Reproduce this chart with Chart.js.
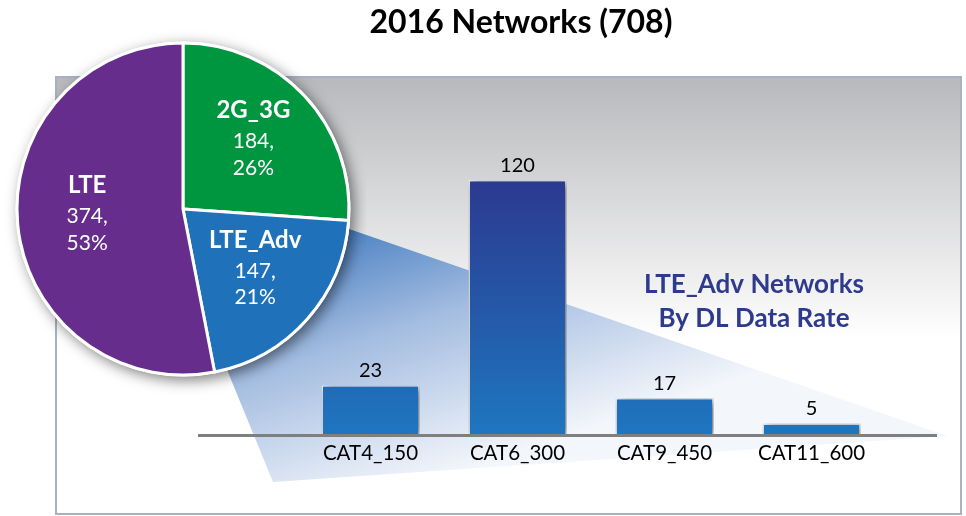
<!DOCTYPE html>
<html>
<head>
<meta charset="utf-8">
<script src="https://cdn.jsdelivr.net/npm/chart.js@4.4.1/dist/chart.umd.min.js"></script>
<style>
  html, body { margin: 0; padding: 0; background: #fff; }
  #wrap { position: relative; width: 966px; height: 516px; }
  canvas { position: absolute; left: 0; top: 0; }
</style>
</head>
<body>
<div id="wrap">
  <canvas id="bar-chart" width="966" height="516"></canvas>
  <canvas id="pie-chart" width="366" height="418"></canvas>
</div>
<script>
// data
const pieLabels = ['2G_3G', 'LTE_Adv', 'LTE'];
const pieValues = [184, 147, 374];
const barLabels = ['CAT4_150', 'CAT6_300', 'CAT9_450', 'CAT11_600'];
const barValues = [23, 120, 17, 5];
const chartTitle = '2016 Networks (708)';
const barTitle = ['LTE_Adv Networks', 'By DL Data Rate'];

const pieColors = ['#00953f', '#1f72ba', '#662d8c'];
const FONT = 'Lato, "Open Sans", sans-serif';

// grey panel, zoom wedge, title texts and the base line
const backdrop = {
    id: 'backdrop',
    beforeDraw(chart) {
        const ctx = chart.ctx;
        ctx.save();
        const bg = ctx.createLinearGradient(0, 77, 0, 340);
        bg.addColorStop(0, '#b8b9bc');
        bg.addColorStop(1, '#ffffff');
        ctx.fillStyle = bg;
        ctx.fillRect(56, 77, 905, 437);
        ctx.strokeStyle = '#a9b2c4';
        ctx.lineWidth = 2;
        ctx.strokeRect(56, 77, 905, 437);

        // wedge coming out of the pie
        const wg = ctx.createLinearGradient(330, 215, 420, 485);
        wg.addColorStop(0, '#3f79c0');
        wg.addColorStop(0.45, '#a3bce0');
        wg.addColorStop(1, '#f3f6fb');
        ctx.fillStyle = wg;
        ctx.beginPath();
        ctx.moveTo(190, 174);
        ctx.lineTo(948, 436);
        ctx.lineTo(273, 482);
        ctx.lineTo(182, 260);
        ctx.closePath();
        ctx.fill();

        ctx.fillStyle = '#000';
        ctx.textAlign = 'center';
        ctx.textBaseline = 'alphabetic';
        ctx.font = 'bold 32px ' + FONT;
        ctx.fillText(chartTitle, 521, 33);

        ctx.fillStyle = '#2e3a8e';
        ctx.font = 'bold 26px ' + FONT;
        ctx.fillText(barTitle[0], 754, 293);
        ctx.fillText(barTitle[1], 754, 327);
        ctx.restore();
    },
    beforeDatasetsDraw(chart) {
        const ctx = chart.ctx;
        const y0 = chart.scales.y.getPixelForValue(0);
        ctx.save();
        ctx.strokeStyle = '#7f7f7f';
        ctx.lineWidth = 3;
        ctx.beginPath();
        ctx.moveTo(198, y0 + 1.5);
        ctx.lineTo(937, y0 + 1.5);
        ctx.stroke();
        ctx.restore();
    }
};

const barShadow = {
    id: 'barShadow',
    beforeDatasetDraw(chart) {
        const ctx = chart.ctx;
        ctx.save();
        ctx.shadowColor = 'rgba(0,0,0,0.55)';
        ctx.shadowBlur = 8;
        ctx.shadowOffsetX = 3;
        ctx.shadowOffsetY = 2;
    },
    afterDatasetDraw(chart) {
        chart.ctx.restore();
    }
};

const barValuesText = {
    id: 'barValuesText',
    afterDatasetsDraw(chart) {
        const ctx = chart.ctx;
        const meta = chart.getDatasetMeta(0);
        ctx.save();
        ctx.fillStyle = '#000';
        ctx.font = '20px ' + FONT;
        ctx.textAlign = 'center';
        ctx.textBaseline = 'alphabetic';
        meta.data.forEach((bar, i) => {
            ctx.fillText(barValues[i], bar.x, bar.y - 8);
        });
        ctx.restore();
    }
};

function barGradient(chart) {
    const area = chart.chartArea;
    if (!area) return '#1f72ba';
    const g = chart.ctx.createLinearGradient(0, area.top, 0, area.bottom);
    g.addColorStop(0, '#2c3990');
    g.addColorStop(1, '#1e76bf');
    return g;
}

new Chart(document.querySelector('#bar-chart').getContext('2d'), {
    type: 'bar',
    data: {
        labels: barLabels,
        datasets: [{
            data: barValues,
            backgroundColor: ctx => barGradient(ctx.chart),
            borderColor: '#e6edf8',
            borderWidth: 1.5,
            barPercentage: 0.667,
            categoryPercentage: 1,
            clip: false
        }]
    },
    options: {
        responsive: false,
        animation: false,
        layout: { padding: { left: 297, right: 81, top: 180, bottom: 0 } },
        scales: {
            x: {
                grid: { display: false, drawTicks: false },
                border: { display: false },
                ticks: { color: '#000', font: { family: FONT, size: 20.5 }, padding: 7 },
                afterFit: scale => { scale.height = 82; }
            },
            y: { display: false, min: 0, max: 120 }
        },
        plugins: { legend: { display: false }, tooltip: { enabled: false } }
    },
    plugins: [backdrop, barShadow, barValuesText]
});

// pie: shadow under the disc, then the labels inside the slices
const pieShadow = {
    id: 'pieShadow',
    beforeDatasetsDraw(chart) {
        const arc = chart.getDatasetMeta(0).data[0];
        const ctx = chart.ctx;
        ctx.save();
        ctx.shadowColor = 'rgba(0,0,0,0.5)';
        ctx.shadowBlur = 14;
        ctx.shadowOffsetX = 4;
        ctx.shadowOffsetY = 4;
        ctx.fillStyle = '#fff';
        ctx.beginPath();
        ctx.arc(arc.x, arc.y, arc.outerRadius + 1.5, 0, Math.PI * 2);
        ctx.fill();
        ctx.restore();
    }
};

const pieText = {
    id: 'pieText',
    afterDatasetsDraw(chart) {
        const ctx = chart.ctx;
        const total = pieValues.reduce((a, b) => a + b, 0);
        ctx.save();
        ctx.fillStyle = '#fff';
        ctx.textAlign = 'center';
        ctx.textBaseline = 'alphabetic';
        chart.getDatasetMeta(0).data.forEach((arc, i) => {
            const mid = (arc.startAngle + arc.endAngle) / 2;
            const r = arc.outerRadius * 0.58;
            const x = arc.x + Math.cos(mid) * r;
            const y = arc.y + Math.sin(mid) * r + 5;
            ctx.font = 'bold 24px ' + FONT;
            ctx.fillText(pieLabels[i], x, y - 30);
            ctx.font = '21px ' + FONT;
            ctx.fillText(pieValues[i] + ',', x, y);
            ctx.fillText(Math.round(pieValues[i] / total * 100) + '%', x, y + 26.5);
        });
        ctx.restore();
    }
};

new Chart(document.querySelector('#pie-chart').getContext('2d'), {
    type: 'pie',
    data: {
        labels: pieLabels,
        datasets: [{
            data: pieValues,
            backgroundColor: pieColors,
            borderColor: '#fff',
            borderWidth: 3
        }]
    },
    options: {
        responsive: false,
        animation: false,
        radius: 166,
        plugins: { legend: { display: false }, tooltip: { enabled: false } }
    },
    plugins: [pieShadow, pieText]
});
</script>
</body>
</html>
